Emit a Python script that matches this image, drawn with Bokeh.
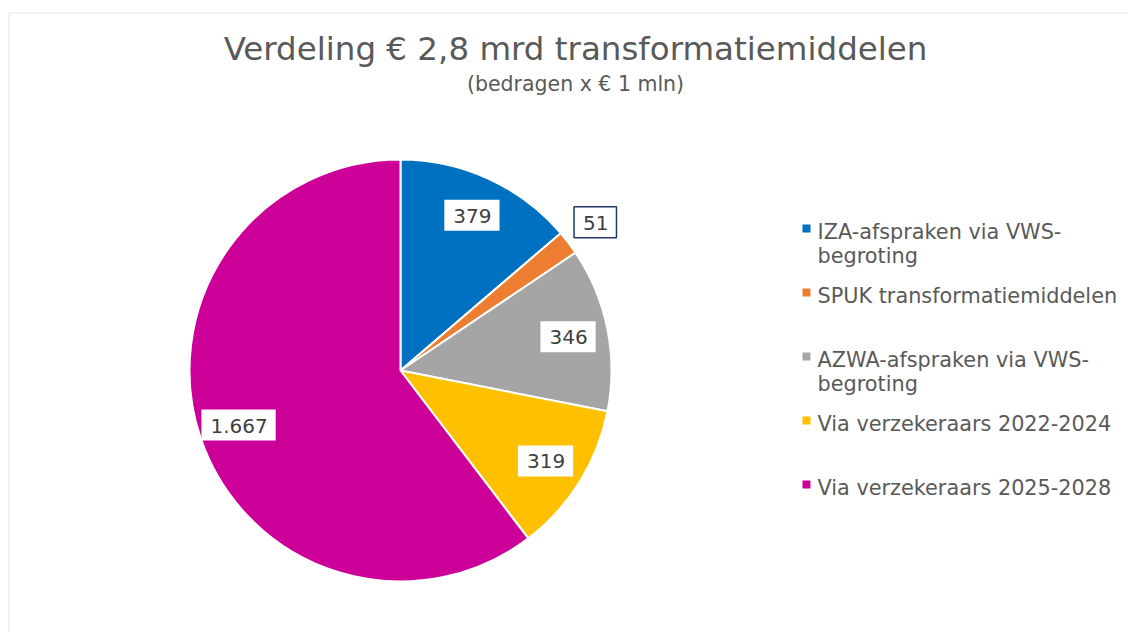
import math
from bokeh.plotting import figure
from bokeh.models import ColumnDataSource, Range1d, BoxAnnotation
from bokeh.core.properties import value
from bokeh.embed import file_html
from bokeh.resources import INLINE

categories = ["IZA-afspraken via VWS-\nbegroting", "SPUK transformatiemiddelen",
              "AZWA-afspraken via VWS-\nbegroting", "Via verzekeraars 2022-2024",
              "Via verzekeraars 2025-2028"]
amounts = [379, 51, 346, 319, 1667]
amount_labels = ["379", "51", "346", "319", "1.667"]
colors = ["#0070C0", "#ED7D31", "#A5A5A5", "#FFC000", "#CC0099"]
title_text = "Verdeling € 2,8 mrd transformatiemiddelen"
subtitle_text = "(bedragen x € 1 mln)"

W, H = 1128, 632
FONT = "DejaVu Sans"

def sy(y):  # screen y -> data y
    return H - y

p = figure(width=W, height=H, output_backend="svg", toolbar_location=None,
           x_range=Range1d(0, W), y_range=Range1d(0, H), min_border=0)
p.axis.visible = False
p.grid.visible = False
p.outline_line_color = None
p.background_fill_color = "white"
p.border_fill_color = "white"

# chart area frame
p.add_layout(BoxAnnotation(left=8.5, right=W + 50, top=sy(12.5), bottom=-50,
                           fill_alpha=0, line_color="#D0D0D0", line_width=2))

# pie
cx, cy, R = 400, sy(370), 211
total = sum(amounts)
starts, ends, mids = [], [], []
cum = 0
for a in amounts:
    s = math.pi / 2 - cum / total * 2 * math.pi
    cum += a
    e = math.pi / 2 - cum / total * 2 * math.pi
    starts.append(s); ends.append(e); mids.append((s + e) / 2)

src = ColumnDataSource(dict(start=starts, end=ends, color=colors))
p.wedge(x=cx, y=cy, radius=R, start_angle="start", end_angle="end", direction="clock",
        fill_color="color", line_color="white", line_width=2, source=src)

# data labels
fr = [0.81 if a / total > 0.05 else 1.16 for a in amounts]
lx = [cx + f * R * math.cos(m) for f, m in zip(fr, mids)]
ly = [cy + f * R * math.sin(m) for f, m in zip(fr, mids)]
bcol = ["#1F3864" if f > 1 else None for f in fr]
lsrc = ColumnDataSource(dict(x=lx, y=ly, t=amount_labels, b=bcol))
p.text(x="x", y="y", text="t", source=lsrc, text_align="center", text_baseline="middle",
       text_font=value(FONT), text_font_size="20px", text_color="#404040",
       background_fill_color="white", border_line_color="b", border_line_width=1.5,
       padding=[9, 8, 9, 8])

# title
p.text(x=[575], y=[sy(48)], text=[title_text], text_align="center", text_baseline="alphabetic",
       text_font=value(FONT), text_font_size="32.5px", text_color="#595959")
p.text(x=[575], y=[sy(83)], text=[subtitle_text], text_align="center", text_baseline="alphabetic",
       text_font=value(FONT), text_font_size="20.5px", text_color="#595959")

# legend
sq_x, sq_y, tx, ty, lt = [], [], [], [], []
for i, (c, lab) in enumerate(zip(colors, categories)):
    base = 231 + 64 * i
    sq_x.append(806); sq_y.append(sy(base - 3))
    for j, line in enumerate(lab.split("\n")):
        tx.append(817); ty.append(sy(base + 24 * j)); lt.append(line)
p.scatter(x=sq_x, y=sq_y, marker="square", size=8, fill_color=colors, line_color=None)
p.text(x=tx, y=ty, text=lt, text_align="left", text_baseline="alphabetic",
       text_font=value(FONT), text_font_size="20.8px", text_color="#595959")

open("out.html", "w").write(file_html(p, INLINE))
